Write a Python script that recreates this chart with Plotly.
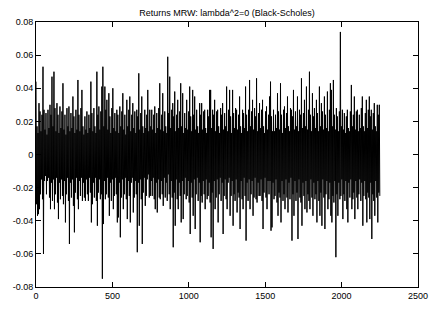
import numpy as np
import plotly.graph_objects as go

# Per-column high / low returns (units of 1e-3)
hi = [44,17,13,31,26,14,24,53,27,15, 25,12,27,16,30,24,47,17,50,28,
      14,31,24,13,29,16,26,43,15,24, 12,28,17,29,14,25,16,35,23,13,
      27,15,45,24,14,28,39,17,12,23, 15,26,13,24,16,44,25,14,28,17,
      13,50,24,29,15,26,41,53,17,41, 27,33,15,37,23,13,28,40,16,25,
      14,27,24,13,29,17,26,37,15,24, 12,33,17,27,35,14,24,31,16,26,
      13,27,23,49,15,25,35,17,13,27, 16,24,39,14,27,17,27,15,24,29,
      13,25,16,28,43,15,24,37,14,26, 17,13,59,25,47,16,27,31,23,38,
      14,24,33,16,26,43,17,37,13,25, 16,33,15,26,41,23,14,39,24,35,
      15,27,17,13,31,24,31,15,26,27, 16,13,27,23,39,39,16,27,24,33,
      14,26,27,17,13,28,24,31,15,25, 17,41,14,27,39,23,13,39,25,16,
      28,27,15,24,35,17,13,27,25,16, 41,24,14,27,45,17,26,33,15,28,
      23,46,14,25,31,16,27,33,17,13, 26,29,15,24,35,44,23,14,27,14,
      24,16,37,26,15,43,24,13,27,29, 16,25,35,17,14,28,27,23,39,15,
      26,17,35,14,27,24,46,16,25,33, 17,41,15,27,50,24,14,37,23,28,
      16,33,25,14,41,17,31,26,15,35, 24,16,38,14,27,43,39,17,45,24,
      15,28,23,14,26,74,17,27,15,25, 13,23,27,16,14,26,42,17,24,35,
      15,26,27,14,24,16,28,35,17,14, 25,33,16,27,35,23,27,15,25,31,
      17,14,30,24,30]
lo = [-30,-37,-36,-33,-24,-15,-27,-60,-16,-13, -24,-16,-14,-26,-33,-17,-28,-15,-33,-24,
      -14,-29,-39,-17,-27,-15,-25,-30,-16,-41, -24,-14,-28,-54,-17,-26,-15,-31,-47,-23,
      -14,-27,-33,-16,-25,-14,-28,-17,-26,-28, -15,-24,-28,-14,-23,-41,-30,-17,-26,-14,
      -28,-43,-23,-15,-27,-24,-75,-42,-16,-27, -24,-14,-26,-37,-17,-28,-15,-33,-25,-14,
      -24,-41,-38,-17,-50,-26,-15,-33,-24,-14, -27,-39,-16,-25,-41,-17,-14,-35,-26,-16,
      -24,-59,-17,-43,-15,-27,-54,-23,-14,-31, -25,-15,-12,-26,-25,-16,-25,-14,-27,-33,
      -17,-35,-15,-26,-27,-16,-24,-31,-14,-26, -17,-28,-12,-24,-33,-16,-26,-56,-23,-43,
      -15,-27,-33,-17,-25,-41,-16,-39,-24,-14, -27,-25,-16,-29,-48,-17,-26,-37,-15,-45,
      -24,-14,-28,-17,-53,-25,-29,-16,-24,-33, -15,-27,-25,-17,-29,-50,-23,-57,-16,-33,
      -26,-15,-41,-24,-14,-28,-17,-48,-25,-15, -27,-33,-17,-14,-37,-25,-16,-43,-24,-28,
      -15,-35,-23,-26,-45,-16,-27,-33,-14,-25, -52,-17,-28,-15,-33,-24,-16,-37,-26,-14,
      -27,-29,-17,-25,-25,-15,-28,-45,-23,-14, -26,-33,-16,-24,-16,-46,-44,-17,-27,-25,
      -15,-29,-37,-23,-26,-41,-16,-28,-24,-33, -15,-26,-35,-17,-27,-14,-52,-24,-37,-16,
      -28,-23,-51,-15,-26,-29,-43,-17,-25,-33, -16,-35,-24,-28,-33,-15,-26,-37,-17,-27,
      -24,-41,-16,-28,-37,-23,-43,-15,-26,-45, -24,-16,-33,-27,-17,-37,-41,-25,-29,-16,
      -62,-24,-37,-17,-27,-25,-15,-39,-24,-28, -16,-33,-41,-17,-26,-15,-33,-27,-23,-39,
      -16,-26,-33,-24,-15,-28,-17,-43,-25,-16, -27,-41,-23,-26,-39,-17,-51,-24,-28,-37,
      -16,-26,-41,-23,-25]
n_samples = 2250

x_ticks = [0, 500, 1000, 1500, 2000, 2500]
y_ticks = [-0.08, -0.06, -0.04, -0.02, 0, 0.02, 0.04, 0.06, 0.08]
y_ticktext = ["-0.08", "-0.06", "-0.04", "-0.02", "0", "0.02", "0.04", "0.06", "0.08"]
title = "Returns MRW: lambda^2=0 (Black-Scholes)"

n = min(len(hi), len(lo))
returns = []
for h, l in zip(hi[:n], lo[:n]):
    returns += [h / 1000.0, l / 1000.0]
t = np.linspace(0, n_samples, len(returns))

fig = go.Figure(go.Scatter(x=t, y=returns, mode="lines",
                           line=dict(color="black", width=1), hoverinfo="skip"))

font = dict(family="Liberation Sans, Arial, sans-serif", size=9, color="black")
axis_common = dict(showgrid=False, zeroline=False, showline=True, linecolor="black",
                   linewidth=1, mirror="allticks", ticks="inside", ticklen=5,
                   tickcolor="black", tickfont=font, automargin=False)
fig.update_layout(
    width=443, height=311,
    margin=dict(l=36, r=25, t=22, b=24),
    paper_bgcolor="white", plot_bgcolor="white",
    showlegend=False,
    title=dict(text=title, x=(36 + 418) / 2 / 443, xanchor="center",
               y=1 - 13 / 311, yanchor="middle", font=font),
    xaxis=dict(range=[0, 2500], tickvals=x_ticks, ticktext=[str(v) for v in x_ticks],
               **axis_common),
    yaxis=dict(range=[-0.08, 0.08], tickvals=y_ticks, ticktext=y_ticktext,
               **axis_common),
)
fig.write_html("out.html", config={"displayModeBar": False},
               post_script="document.body.style.margin='0';document.body.style.overflow='hidden';")
